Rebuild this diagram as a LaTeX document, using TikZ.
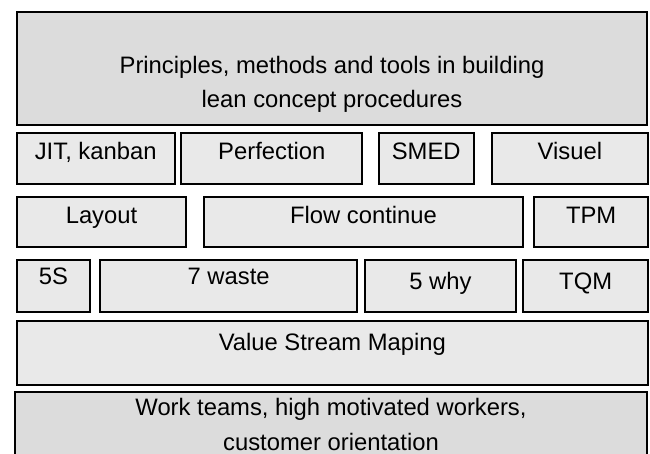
\documentclass[tikz,border=0pt]{standalone}
\usepackage{fontspec}
\setmainfont{Liberation Sans}
\usetikzlibrary{positioning}
\definecolor{lite}{HTML}{E9E9E9}
\definecolor{dark}{HTML}{DCDCDC}

\begin{document}
\begin{tikzpicture}[x=1pt,y=-1pt,
    blk/.style={draw=black,line width=2pt,fill=lite,inner sep=0pt,outer sep=0pt,
      align=center,font=\fontsize{23.8pt}{34.5pt}\selectfont},
    row/.style 2 args={text height=#1,text depth=#2}]
    \useasboundingbox (0,0) rectangle (650,454);
    \clip (0,0) rectangle (650,454);

    % top block
    \node [blk,fill=dark,row={95.8pt}{16.9pt},minimum width=630.6pt,anchor=north west] (prin) at (16.7,12)
      {Principles, methods and tools in building\\lean concept procedures};

    % tools, three rows
    \node [blk,row={26.5pt}{24.5pt},minimum width=158pt,anchor=north west] (jit) at (16.7,133) {JIT, kanban};
    \node [blk,row={26.5pt}{24.5pt},minimum width=181pt,right=6.6pt of jit] (perf) {Perfection};
    \node [blk,row={26.5pt}{24.5pt},minimum width=95pt,right=16.4pt of perf] (smed) {SMED};
    \node [blk,row={26.5pt}{24.5pt},minimum width=156.3pt,right=18pt of smed] (vis) {Visuel};

    \node [blk,row={27pt}{23.3pt},minimum width=169.6pt,anchor=north west] (lay) at (16.7,197) {Layout};
    \node [blk,row={27pt}{23.3pt},minimum width=319pt,right=17.7pt of lay] (flow) {Flow continue};
    \node [blk,row={27pt}{23.3pt},minimum width=113.7pt,right=11.3pt of flow] (tpm) {TPM};

    \node [blk,row={23.7pt}{27.7pt},minimum width=73.3pt,anchor=north west] (s5) at (16.7,260.3) {5S};
    \node [blk,row={23.7pt}{27.7pt},minimum width=257.3pt,right=10pt of s5] (waste) {7 waste};
    \node [blk,row={28.7pt}{22.7pt},minimum width=151.6pt,right=7.4pt of waste] (why) {5 why};
    \node [blk,row={28.7pt}{22.7pt},minimum width=124.7pt,right=7pt of why] (tqm) {TQM};

    % base blocks
    \node [blk,row={29pt}{35pt},minimum width=631.3pt,anchor=north west] (vsm) at (16.7,321) {Value Stream Maping};
    \node [blk,fill=dark,row={57.9pt}{30.1pt},minimum width=631.4pt,anchor=north west] (work) at (15.3,392.3)
      {Work teams, high motivated workers,\\customer orientation};
\end{tikzpicture}
\end{document}
